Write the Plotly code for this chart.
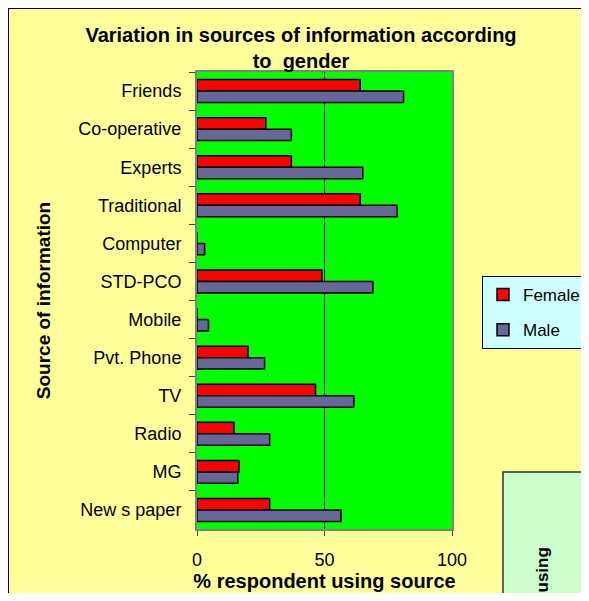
import plotly.graph_objects as go

categories = ["Friends", "Co-operative", "Experts", "Traditional", "Computer", "STD-PCO",
              "Mobile", "Pvt. Phone", "TV", "Radio", "MG", "New s paper"]
female = [64, 27, 37, 64, 0, 49, 0, 20, 46.5, 14.5, 16.5, 28.5]
male = [81, 37, 65, 78.5, 3, 69, 4.5, 26.5, 61.5, 28.5, 16, 56.5]
x_ticks = [0, 50, 100]

# the page body adds an 8px margin, so the figure is sized to fit the window
W, H = 573, 585
L, R, T, B = 189, 444, 64, 521
FONT = "Liberation Sans, Arial, sans-serif"


def px_x(p):
    return (p - L) / (R - L)


def px_y(p):
    return (B - p) / (B - T)


fig = go.Figure()
fig.add_trace(go.Bar(y=categories, x=female, name="Female", orientation="h",
                     marker=dict(color="#ff0000", line=dict(color="black", width=1.5)),
                     legendgroup="f"))
fig.add_trace(go.Bar(y=categories, x=male, name="Male", orientation="h",
                     marker=dict(color="#666699", line=dict(color="black", width=1.5)),
                     legendgroup="m"))

shapes = [
    # black frame of chart area
    dict(type="rect", xref="paper", yref="paper", x0=px_x(0), x1=px_x(700), y0=px_y(700), y1=px_y(0),
         fillcolor="rgba(0,0,0,0)", line=dict(color="black", width=2), layer="below"),
    # neighbouring chart box (bottom right)
    dict(type="rect", xref="paper", yref="paper", x0=px_x(495), x1=px_x(700), y0=px_y(700), y1=px_y(464),
         fillcolor="#ccffcc", line=dict(color="#333333", width=1.5), layer="below"),
]

fig.update_layout(
    width=W, height=H,
    margin=dict(l=L, r=W - R, t=T, b=H - B, autoexpand=False),
    paper_bgcolor="#ffff99",
    plot_bgcolor="#00ff00",
    barmode="group", bargap=0.4, bargroupgap=0,
    font=dict(family=FONT, size=18, color="black"),
    title=dict(text="<b>Variation in sources of information according<br>to  gender</b>",
               font=dict(family=FONT, size=20, color="black"),
               x=293 / W, xanchor="center", xref="container",
               y=1 - 34 / H, yanchor="top", yref="container"),
    xaxis=dict(range=[0, 100], tickvals=x_ticks, ticktext=[str(v) for v in x_ticks],
               showgrid=True, gridcolor="black", gridwidth=1, zeroline=False,
               showline=True, linecolor="#808080", linewidth=2, mirror=True,
               ticks="outside", ticklen=5, tickcolor="#404040",
               tickfont=dict(size=18), ticklabelstandoff=8,
               title=dict(text="<b>% respondent using source</b>", font=dict(size=20), standoff=5)),
    yaxis=dict(autorange="reversed", showgrid=False, zeroline=False,
               showline=True, linecolor="#808080", linewidth=2, mirror=True,
               ticks="outside", ticklen=6, tickcolor="#404040", tickson="boundaries",
               tickfont=dict(size=18), ticklabelstandoff=10,
               title=dict(text="<b>Source of information</b>", font=dict(size=19), standoff=23)),
    legend=dict(x=px_x(474), xanchor="left", y=px_y(268), yanchor="top",
                bgcolor="#ccffff", bordercolor="black", borderwidth=1,
                font=dict(size=17), traceorder="grouped", tracegroupgap=10, itemwidth=30),
    shapes=shapes,
    annotations=[dict(text="<b>using</b>", textangle=-90, showarrow=False,
                      xref="paper", yref="paper", x=px_x(534), y=px_y(538),
                      xanchor="center", yanchor="top", font=dict(size=17))],
)

fig.write_html("out.html")
